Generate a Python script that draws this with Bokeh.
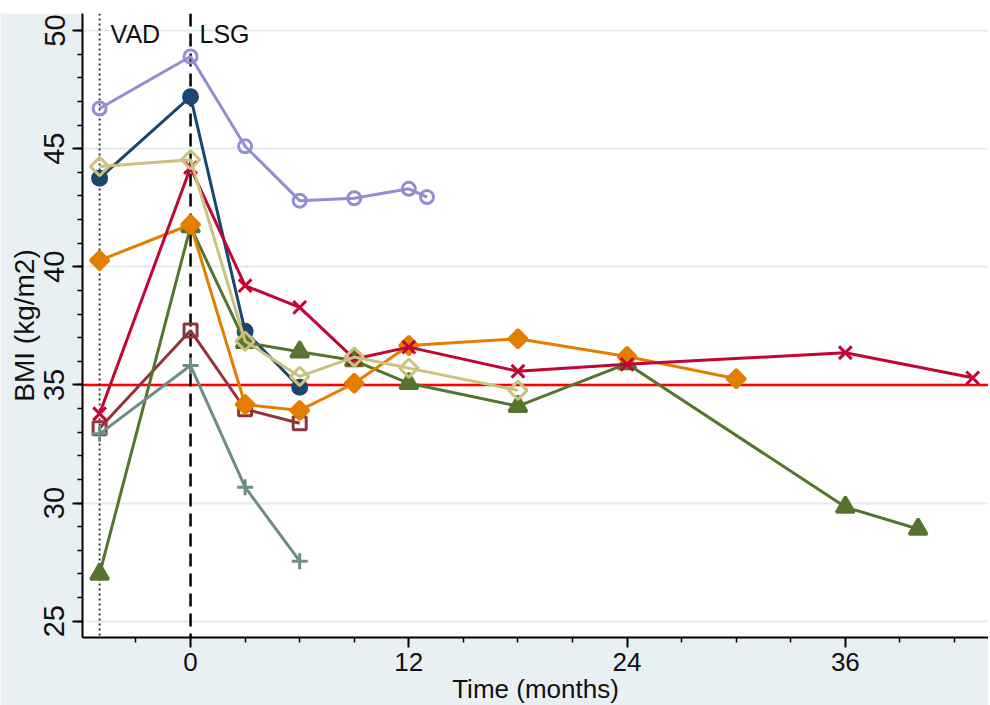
from bokeh.plotting import figure
from bokeh.models import FixedTicker, Span, Label, Range1d, Spacer
from bokeh.layouts import column
from bokeh.embed import file_html
from bokeh.resources import INLINE
import numpy as np

# ---- data (months relative to LSG, BMI kg/m2) ----
navy_x = [-5, 0, 3, 6]
navy_y = [43.75, 47.2, 37.27, 34.9]

maroon_x = [-5, 0, 3, 6]
maroon_y = [33.17, 37.3, 33.97, 33.38]

green_x = [-5, 0, 3, 6, 9, 12, 18, 24, 36, 40]
green_y = [27.0, 41.7, 36.8, 36.4, 36.03, 35.07, 34.1, 35.9, 29.83, 28.9]

orange_x = [-5, 0, 3, 6, 9, 12, 18, 24, 30]
orange_y = [40.27, 41.79, 34.17, 33.92, 35.07, 36.67, 36.95, 36.2, 35.26]

teal_x = [-5, 0, 3, 6]
teal_y = [32.93, 35.82, 30.67, 27.54]

red_x = [-5, 0, 3, 6, 9, 12, 18, 24, 36, 43]
red_y = [33.78, 44.2, 39.2, 38.28, 36.1, 36.6, 35.58, 35.87, 36.36, 35.3]

purple_x = [-5, 0, 3, 6, 9, 12, 13]
purple_y = [46.7, 48.9, 45.1, 42.8, 42.9, 43.3, 42.95]

khaki_x = [-5, 0, 3, 6, 9, 12, 18]
khaki_y = [44.24, 44.53, 36.85, 35.36, 36.18, 35.71, 34.77]

x_ticks = [0, 12, 24, 36]
x_minor = [-3, 3, 6, 9, 15, 18, 21, 27, 30, 33, 39, 42]
y_ticks = [25, 30, 35, 40, 45, 50]
y_minor = list(range(25, 51))

vad_month = -5
lsg_month = 0
threshold = 35

BG = "#E8F0F3"
FONT = "Liberation Sans"
TXT = "#111111"

p = figure(frame_width=906, frame_height=624,
           x_range=Range1d(-5.94, 43.87), y_range=Range1d(24.31, 50.72),
           output_backend="svg", toolbar_location=None,
           min_border_left=82, min_border_right=0, min_border_top=0, min_border_bottom=68,
           border_fill_color=BG, background_fill_color="white", outline_line_color=None)

p.xaxis.ticker = FixedTicker(ticks=x_ticks, minor_ticks=x_minor)
p.yaxis.ticker = FixedTicker(ticks=y_ticks, minor_ticks=y_minor)
p.xaxis.axis_label = "Time (months)"
p.yaxis.axis_label = "BMI (kg/m2)"
for ax in (p.xaxis[0], p.yaxis[0]):
    ax.major_tick_out = 10
    ax.major_tick_in = 0
    ax.minor_tick_out = 5
    ax.minor_tick_in = 0
    ax.axis_line_width = 2
    ax.axis_line_color = "black"
    ax.major_tick_line_width = 2
    ax.minor_tick_line_width = 1.5
    ax.major_label_text_font = FONT
    ax.major_label_text_color = TXT
    ax.axis_label_text_font = FONT
    ax.axis_label_text_font_style = "normal"
    ax.axis_label_text_color = TXT
p.xaxis.major_label_text_font_size = "26px"
p.xaxis.axis_label_text_font_size = "26px"
p.yaxis.major_label_text_font_size = "29px"
p.yaxis.axis_label_text_font_size = "28px"
p.xaxis.major_label_standoff = 5
p.xaxis.axis_label_standoff = 0
p.yaxis.major_label_standoff = 8
p.yaxis.axis_label_standoff = 2
p.yaxis.major_label_orientation = "vertical"

p.xgrid.visible = False
p.ygrid.ticker = FixedTicker(ticks=y_ticks)
p.ygrid.grid_line_color = "#E2ECF0"
p.ygrid.grid_line_width = 2

p.add_layout(Span(location=threshold, dimension="width", line_color="#FF0000",
                  line_width=2.5, level="underlay"))
p.add_layout(Span(location=lsg_month, dimension="height", line_color="black",
                  line_width=2.5, line_dash="13 7", level="underlay"))
p.add_layout(Span(location=vad_month, dimension="height", line_color="#222222",
                  line_width=1.8, line_dash="2 3", level="underlay"))

LW = 3
series = [
    (navy_x, navy_y, "#1A476F", dict(marker="circle", size=14, fill_color="#1A476F")),
    (maroon_x, maroon_y, "#90353B", dict(marker="square", size=13, fill_color=None)),
    (green_x, green_y, "#55752F", dict(marker="triangle", size=18, fill_color="#55752F")),
    (orange_x, orange_y, "#E37E00", dict(marker="square", size=13, angle=np.pi / 4, fill_color="#E37E00")),
    (teal_x, teal_y, "#6E8E84", dict(marker="cross", size=16, fill_color=None)),
    (red_x, red_y, "#C10534", dict(marker="x", size=18, fill_color=None)),
    (purple_x, purple_y, "#938DD2", dict(marker="circle", size=13, fill_color=None)),
    (khaki_x, khaki_y, "#CAC27E", dict(marker="square", size=13, angle=np.pi / 4, fill_color=None)),
]
for xs, ys, col, mk in series:
    p.line(xs, ys, line_color=col, line_width=LW)
    p.scatter(xs, ys, line_color=col, line_width=LW, **mk)

y_top = p.y_range.end
p.add_layout(Label(x=vad_month, y=y_top, x_offset=11, y_offset=-20, text="VAD",
                   text_font=FONT, text_font_size="25px", text_color=TXT,
                   text_baseline="alphabetic"))
p.add_layout(Label(x=lsg_month, y=y_top, x_offset=9, y_offset=-20, text="LSG",
                   text_font=FONT, text_font_size="25px", text_color=TXT,
                   text_baseline="alphabetic"))

layout = column(Spacer(height=13, width=988), p, spacing=0)
open("out.html", "w").write(file_html(layout, INLINE))
